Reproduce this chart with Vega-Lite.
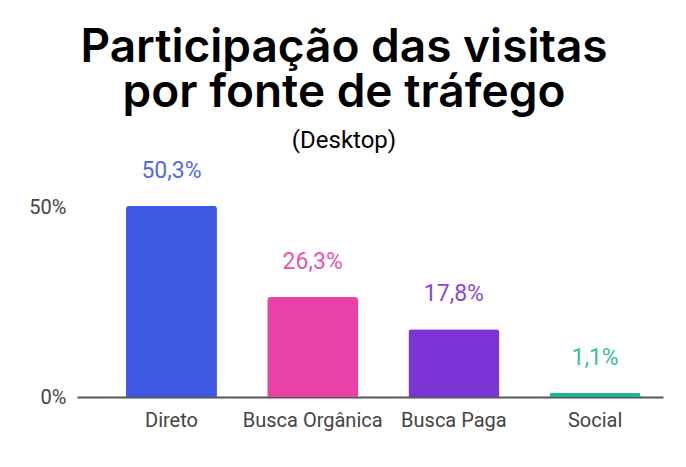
{
  "$schema": "https://vega.github.io/schema/vega-lite/v6.json",
  "autosize": "none",
  "width": 586,
  "height": 228,
  "padding": {"left": 77, "top": 169, "right": 23, "bottom": 70},
  "background": "white",
  "config": {
    "view": {"stroke": null},
    "font": "Roboto",
    "locale": {"number": {"decimal": ",", "thousands": ".", "grouping": [3], "currency": ["R$", ""]}}
  },
  "title": {
    "text": ["Participação das visitas", "por fonte de tráfego"],
    "subtitle": "(Desktop)",
    "anchor": "middle",
    "dx": -26,
    "offset": 6,
    "fontSize": 46,
    "fontWeight": 600,
    "lineHeight": 45,
    "color": "#000000",
    "subtitleFontSize": 24,
    "subtitleColor": "#000000",
    "subtitlePadding": 12,
    "font": "Inter",
    "subtitleFont": "Roboto"
  },
  "data": {
    "values": [
      {"fonte": "Direto", "share": 0.503},
      {"fonte": "Busca Orgânica", "share": 0.263},
      {"fonte": "Busca Paga", "share": 0.178},
      {"fonte": "Social", "share": 0.011}
    ]
  },
  "encoding": {
    "x": {
      "field": "fonte",
      "type": "nominal",
      "sort": null,
      "scale": {"paddingInner": 0.356, "paddingOuter": 0.253, "align": 0.686},
      "axis": {
        "title": null,
        "labelAngle": 0,
        "ticks": false,
        "domainColor": "#555555",
        "domainWidth": 2,
        "labelFontSize": 20,
        "labelColor": "#444444",
        "labelPadding": 13
      }
    },
    "y": {
      "field": "share",
      "type": "quantitative",
      "scale": {"domain": [0, 0.6]},
      "axis": {
        "title": null,
        "values": [0, 0.5],
        "format": ".0%",
        "grid": false,
        "domain": false,
        "ticks": false,
        "labelFontSize": 20,
        "labelColor": "#444444",
        "labelPadding": 11
      }
    },
    "color": {
      "field": "fonte",
      "type": "nominal",
      "sort": null,
      "legend": null,
      "scale": {
        "domain": ["Direto", "Busca Orgânica", "Busca Paga", "Social"],
        "range": ["#3f59e2", "#ea41a6", "#7b35d6", "#1fb597"]
      }
    }
  },
  "layer": [
    {
      "mark": {"type": "bar", "cornerRadiusTopLeft": 3, "cornerRadiusTopRight": 3}
    },
    {
      "mark": {"type": "text", "baseline": "middle", "dy": -35, "fontSize": 23, "opacity": 0.9},
      "encoding": {
        "text": {"field": "share", "type": "quantitative", "format": ".1%"}
      }
    }
  ]
}
